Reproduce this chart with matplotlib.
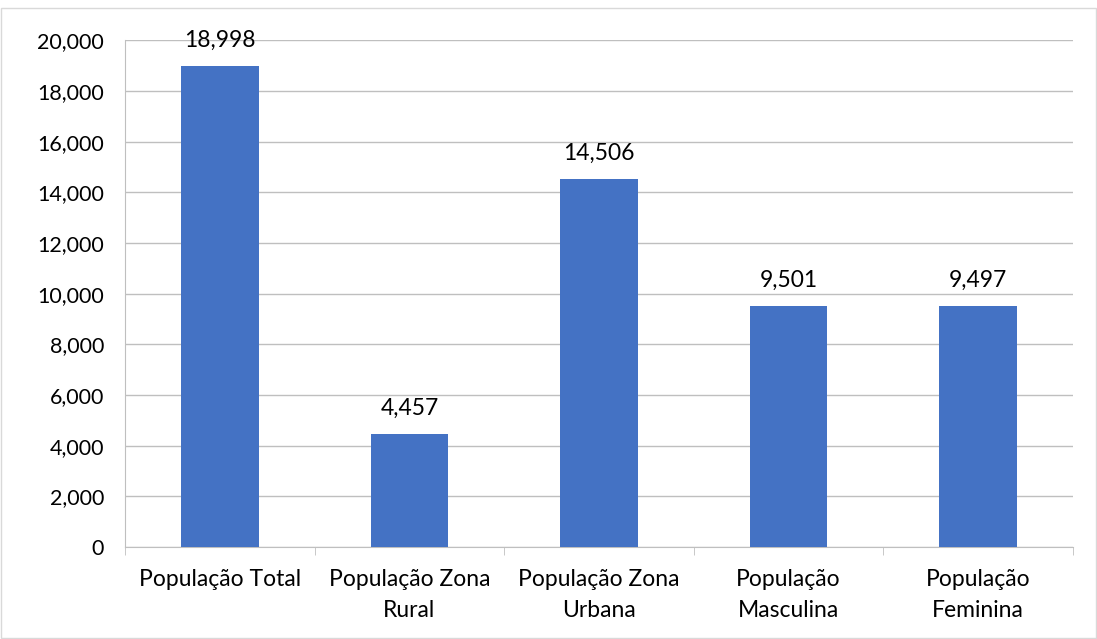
import numpy as np
import matplotlib.pyplot as plt

# dados
categorias = ['População Total', 'População Zona\nRural', 'População Zona\nUrbana',
              'População\nMasculina', 'População\nFeminina']
valores = [18998, 4457, 14506, 9501, 9497]

plt.rcParams['font.family'] = ['Lato', 'DejaVu Sans']

fig = plt.figure(figsize=(10.97, 6.39), dpi=100)
ax = fig.add_axes([0.114, 0.144, 0.864, 0.793])

x = np.arange(len(categorias))
ax.bar(x, valores, width=0.41, color='#4472C4', zorder=3)

for xi, v in zip(x, valores):
    ax.text(xi, v + 600, f'{v:,}', ha='center', va='bottom', fontsize=16.5)

ax.set_xlim(-0.5, len(categorias) - 0.5)
ax.set_ylim(0, 20000)
ax.set_yticks(np.arange(0, 20001, 2000))
ax.set_yticklabels([f'{t:,}' for t in range(0, 20001, 2000)], fontsize=15.5)
ax.yaxis.grid(True, color='#bfbfbf', linewidth=1, zorder=0)
ax.tick_params(axis='y', length=0, pad=15)

ax.set_xticks(x)
ax.set_xticklabels(categorias, fontsize=16.5, linespacing=1.6)
ax.set_xticks(np.arange(-0.5, len(categorias), 1), minor=True)
ax.tick_params(axis='x', which='major', length=0, pad=16)
ax.tick_params(axis='x', which='minor', length=6, color='#bfbfbf')

for s in ['top', 'right']:
    ax.spines[s].set_visible(False)
ax.spines['left'].set_color('#bfbfbf')
ax.spines['bottom'].set_color('#bfbfbf')

# moldura externa
fig.patches.append(plt.Rectangle((0.001, 0.001), 0.998, 0.986, transform=fig.transFigure,
                                 fill=False, edgecolor='#d9d9d9', linewidth=1))

fig.savefig('out.png', dpi=100)
